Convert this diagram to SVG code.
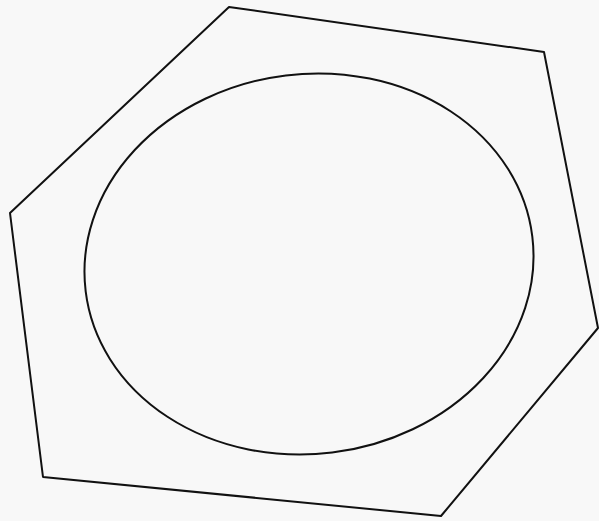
<svg xmlns="http://www.w3.org/2000/svg" width="599" height="521" viewBox="0 0 599 521">
<style>.ln{fill:none;stroke:#111;stroke-width:2;stroke-linejoin:round}</style>
<rect width="599" height="521" fill="#f8f8f8"/>
<g id="hexagon"><polygon class="ln" points="229,7 544,52 598,328 441,516 43,477 10,213"/></g>
<g id="circle"><ellipse class="ln" cx="309" cy="264" rx="225" ry="190" transform="rotate(-7 309 264)"/></g>
</svg>
